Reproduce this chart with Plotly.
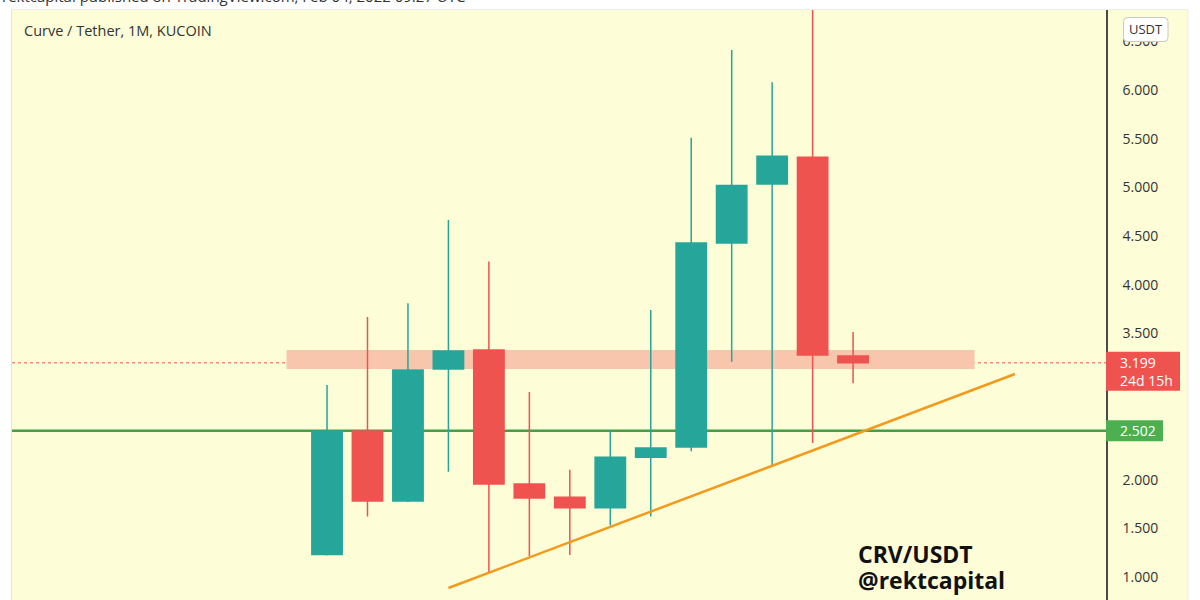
import plotly.graph_objects as go

# Monthly CRV/USDT candles (KUCOIN), Jan 2021 - Feb 2022
months = ["Jan 2021", "Feb 2021", "Mar 2021", "Apr 2021", "May 2021", "Jun 2021",
          "Jul 2021", "Aug 2021", "Sep 2021", "Oct 2021", "Nov 2021", "Dec 2021",
          "Jan 2022", "Feb 2022"]
opens  = [1.23, 2.50, 1.78, 3.135, 3.33, 1.955, 1.82, 1.71, 2.23, 2.335, 4.43, 5.035, 5.31, 3.27]
highs  = [2.97, 3.67, 3.81, 4.665, 4.24, 2.90, 2.10, 2.51, 3.74, 5.51, 6.41, 6.08, 6.95, 3.515]
lows   = [1.22, 1.62, 1.77, 2.08, 1.05, 1.215, 1.226, 1.53, 1.62, 2.29, 3.21, 2.15, 2.375, 2.99]
closes = [2.50, 1.78, 3.125, 3.32, 1.955, 1.81, 1.71, 2.23, 2.325, 4.43, 5.02, 5.32, 3.28, 3.199]

# Drawn levels
last_price = 3.199
countdown = "24d 15h"
support_level = 2.502
resist_zone = (3.135, 3.33)
resist_span = (-1, 16)
trend_x = [3, 17]
trend_y = [0.887, 3.084]

# Price axis ticks (2.500 / 3.000 sit under the price labels)
tick_vals = [1.0, 1.5, 2.0, 3.5, 4.0, 4.5, 5.0, 5.5, 6.0, 6.5]
tick_text = [f"{v:.3f}" for v in tick_vals]

UP = "#26a69a"
DOWN = "#ef5350"
BG = "#fdfdd7"
FONT = "Open Sans"

W, H = 1200, 600
L, R, T, B = 12, 94, 10, 0
PW, PH = W - L - R, H - T - B


def xp(px):
    return (px - L) / PW


def yp(py):
    return (H - B - py) / PH


idx = list(range(len(months)))

fig = go.Figure()
fig.add_trace(go.Candlestick(
    x=idx, open=opens, high=highs, low=lows, close=closes,
    text=months, hoverinfo="text+y",
    increasing=dict(line=dict(color=UP, width=1.5), fillcolor=UP),
    decreasing=dict(line=dict(color=DOWN, width=1.5), fillcolor=DOWN),
    whiskerwidth=0, showlegend=False,
))
fig.add_trace(go.Scatter(
    x=trend_x, y=trend_y, mode="lines",
    line=dict(color="#f39a1c", width=2.5), hoverinfo="skip", showlegend=False,
))

shapes = [
    # right price-scale panel
    dict(type="rect", xref="paper", yref="paper", x0=1, x1=xp(1188), y0=0, y1=1,
         fillcolor=BG, line=dict(width=0), layer="below"),
    # frame edges
    dict(type="line", xref="paper", yref="paper", x0=xp(11.5), x1=xp(11.5), y0=0, y1=yp(9.5),
         line=dict(color="#e6e6e0", width=1)),
    dict(type="line", xref="paper", yref="paper", x0=xp(11.5), x1=xp(1188), y0=yp(9.5), y1=yp(9.5),
         line=dict(color="#ececea", width=1)),
    dict(type="line", xref="paper", yref="paper", x0=xp(1188), x1=xp(1188), y0=0, y1=yp(9.5),
         line=dict(color="#ececea", width=1)),
    # resistance zone
    dict(type="rect", xref="x", yref="y", x0=resist_span[0], x1=resist_span[1],
         y0=resist_zone[0], y1=resist_zone[1],
         fillcolor="#f8c6ac", line=dict(width=0), layer="below"),
    # support level
    dict(type="line", xref="paper", yref="y", x0=0, x1=1, y0=support_level, y1=support_level,
         line=dict(color="#43a047", width=2.5), layer="below"),
    # last price line
    dict(type="line", xref="paper", yref="y", x0=0, x1=1, y0=last_price, y1=last_price,
         line=dict(color=DOWN, width=1, dash="dot"), layer="below"),
    # last price label box
    dict(type="rect", xref="paper", yref="y", x0=1, x1=xp(1180),
         ysizemode="pixel", yanchor=last_price, y0=-28, y1=11,
         fillcolor=DOWN, line=dict(width=0)),
    # support label box
    dict(type="rect", xref="paper", yref="y", x0=1, x1=xp(1163),
         ysizemode="pixel", yanchor=support_level, y0=-10.5, y1=10.5,
         fillcolor="#4caf50", line=dict(width=0)),
]

# rounded "USDT" currency badge
bx0, bx1, by0, by1, r = 1123.5, 1168, 17.5, 41.5, 4
path = (f"M {xp(bx0 + r)},{yp(by0)} L {xp(bx1 - r)},{yp(by0)} "
        f"Q {xp(bx1)},{yp(by0)} {xp(bx1)},{yp(by0 + r)} L {xp(bx1)},{yp(by1 - r)} "
        f"Q {xp(bx1)},{yp(by1)} {xp(bx1 - r)},{yp(by1)} L {xp(bx0 + r)},{yp(by1)} "
        f"Q {xp(bx0)},{yp(by1)} {xp(bx0)},{yp(by1 - r)} L {xp(bx0)},{yp(by0 + r)} "
        f"Q {xp(bx0)},{yp(by0)} {xp(bx0 + r)},{yp(by0)} Z")
shapes.append(dict(type="path", xref="paper", yref="paper", path=path,
                   fillcolor="white", line=dict(color="#c8c8c8", width=1)))

annotations = [
    dict(text="rektcapital published on TradingView.com, Feb 04, 2022 09:27 UTC",
         xref="paper", yref="paper", x=xp(0), y=yp(-4), xanchor="left", yanchor="middle",
         showarrow=False, font=dict(family=FONT, size=15, color="#333333")),
    dict(text="Curve / Tether, 1M, KUCOIN", xref="paper", yref="paper",
         x=xp(22), y=yp(31), xanchor="left", yanchor="middle", showarrow=False,
         font=dict(family=FONT, size=14.5, color="#333333")),
    dict(text="USDT", xref="paper", yref="paper", x=xp((bx0 + bx1) / 2), y=yp(29.5),
         xanchor="center", yanchor="middle", showarrow=False,
         font=dict(family=FONT, size=13, color="#333333")),
    dict(text=f"{last_price:.3f}", xref="paper", yref="y", x=xp(1118), y=last_price,
         xanchor="left", yanchor="middle", showarrow=False,
         font=dict(family=FONT, size=14, color="white")),
    dict(text=countdown, xref="paper", yref="y", x=xp(1118), y=last_price, yshift=-18,
         xanchor="left", yanchor="middle", showarrow=False,
         font=dict(family=FONT, size=14, color="white")),
    dict(text=f"{support_level:.3f}", xref="paper", yref="y", x=xp(1118), y=support_level,
         xanchor="left", yanchor="middle", showarrow=False,
         font=dict(family=FONT, size=14, color="white")),
    dict(text="<b>CRV/USDT</b>", xref="paper", yref="paper", x=xp(856), y=yp(554),
         xanchor="left", yanchor="middle", showarrow=False,
         font=dict(family=FONT, size=23, color="#111111")),
    dict(text="<b>@rektcapital</b>", xref="paper", yref="paper", x=xp(856), y=yp(580),
         xanchor="left", yanchor="middle", showarrow=False,
         font=dict(family=FONT, size=23, color="#111111")),
]

fig.update_layout(
    width=W, height=H,
    margin=dict(l=L, r=R, t=T, b=B, pad=0),
    paper_bgcolor="white", plot_bgcolor=BG,
    boxgap=0.25, boxgroupgap=0,
    xaxis=dict(range=[-7.785, 19.25], visible=False, rangeslider=dict(visible=False),
               fixedrange=True),
    yaxis=dict(range=[0.764, 6.821], side="right", tickvals=tick_vals, ticktext=tick_text,
               showgrid=False, zeroline=False, showline=True, linecolor="#4a4a4a",
               linewidth=1.5, ticks="", ticklabelstandoff=12,
               tickfont=dict(family=FONT, size=14, color="#333333")),
    shapes=shapes, annotations=annotations,
    font=dict(family=FONT),
)

fig.write_html("out.html")
